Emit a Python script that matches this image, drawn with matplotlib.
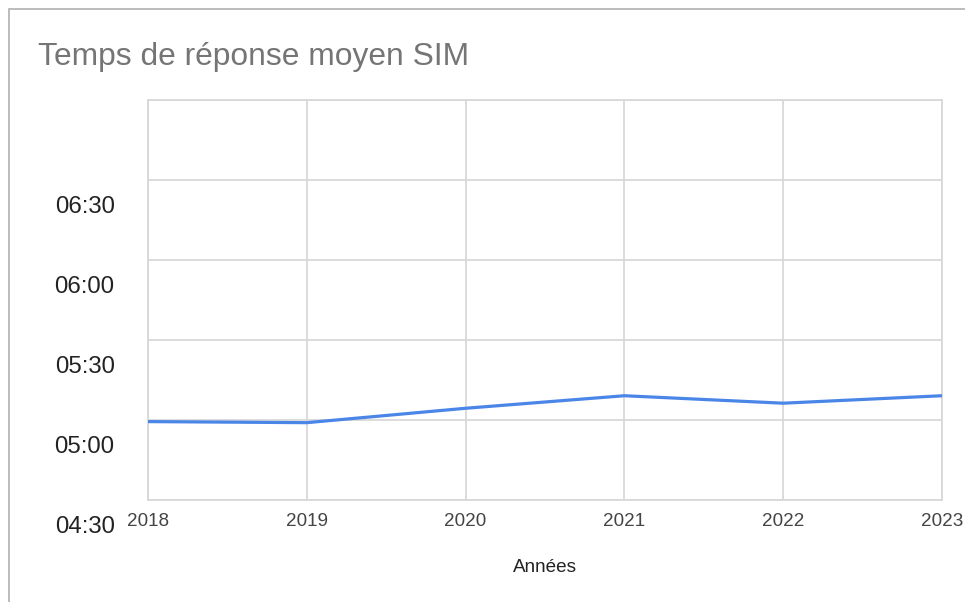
import matplotlib
matplotlib.use("Agg")
import matplotlib.pyplot as plt
from matplotlib.patches import Rectangle
from matplotlib.transforms import ScaledTranslation

# Data: average response time in minutes
years = [2018, 2019, 2020, 2021, 2022, 2023]
minutes = [299.4, 299.0, 304.4, 309.1, 306.3, 309.1]
ytick_values = [270, 300, 330, 360, 390, 420]
ytick_labels = ["04:30", "05:00", "05:30", "06:00", "06:30", ""]
title = "Temps de réponse moyen SIM"
xlabel = "Années"

plt.rcParams['font.family'] = ['Liberation Sans', 'DejaVu Sans']

W, H = 965, 602
fig = plt.figure(figsize=(W / 100, H / 100), dpi=100)
fig.patch.set_facecolor("white")

# outer frame (top and left visible)
fig.patches.append(Rectangle((9 / W, -0.1), 1.2, (H - 9) / H + 0.1,
                             transform=fig.transFigure, fill=False,
                             edgecolor="#b0b0b0", linewidth=1.2))

left, right, top, bottom = 148, 942, 100, 500
ax = fig.add_axes([left / W, 1 - bottom / H, (right - left) / W, (bottom - top) / H])
ax.plot(years, minutes, color="#4a86e8", linewidth=2.3, solid_capstyle="round", zorder=3)

ax.set_xlim(years[0], years[-1])
ax.set_ylim(270, 420)
ax.set_xticks(years)
ax.set_xticklabels([str(y) for y in years], fontsize=13.6, color="#444444")
ax.set_yticks(ytick_values)
ax.set_yticklabels(ytick_labels, fontsize=17.3, color="#222222")
ax.tick_params(axis="both", length=0)
ax.tick_params(axis="x", pad=9)
ax.tick_params(axis="y", pad=24)
ax.grid(True, color="#d6d6d6", linewidth=1.2)
for s in ax.spines.values():
    s.set_color("#d6d6d6")
    s.set_linewidth(1.2)

# Google-Charts style offset of y labels below gridlines
off = ScaledTranslation(0, -0.25, fig.dpi_scale_trans)
for lab in ax.get_yticklabels():
    lab.set_transform(lab.get_transform() + off)

ax.set_xlabel(xlabel, fontsize=13.6, color="#222222", labelpad=21)

fig.text(38 / W, 1 - 57 / H, title, fontsize=22.9, color="#757575",
         ha="left", va="center")

fig.savefig("out.png", dpi=100)
